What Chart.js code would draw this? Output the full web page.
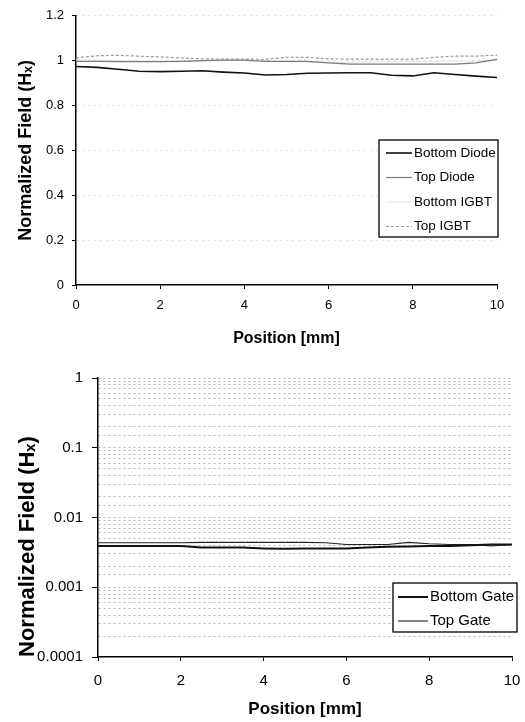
<!DOCTYPE html>
<html>
<head>
<meta charset="utf-8">
<script src="https://cdn.jsdelivr.net/npm/chart.js@4.4.1/dist/chart.umd.min.js"></script>
<style>
  html, body { margin: 0; padding: 0; background: #fff; }
  .wrap { position: absolute; left: 0; width: 525px; }
  #fieldWrap { top: 0; height: 355px; }
  #gateWrap { top: 360px; height: 362px; }
</style>
</head>
<body>
<div class="wrap" id="fieldWrap"><canvas id="fieldChart"></canvas></div>
<div class="wrap" id="gateWrap"><canvas id="gateChart"></canvas></div>
<script>
// Sample positions along the strip [mm]
const positions = [0, 0.5, 1, 1.5, 2, 2.5, 3, 3.5, 4, 4.5, 5, 5.5, 6, 6.5, 7, 7.5, 8, 8.5, 9, 9.5, 10];

// Normalized Hx - diode / IGBT probes (linear plot)
const bottomDiode = [0.974, 0.970, 0.962, 0.953, 0.951, 0.953, 0.955, 0.949, 0.945, 0.936, 0.938, 0.944, 0.945, 0.946, 0.946, 0.935, 0.932, 0.946, 0.938, 0.931, 0.925];
const topDiode    = [0.997, 0.997, 0.996, 0.996, 0.996, 0.997, 1.000, 1.002, 1.002, 0.997, 0.997, 0.997, 0.990, 0.985, 0.985, 0.985, 0.985, 0.985, 0.985, 0.990, 1.006];
const bottomIGBT  = [1.004, 1.003, 1.001, 0.999, 0.998, 0.998, 0.999, 1.000, 1.000, 0.998, 0.995, 0.994, 0.993, 0.993, 0.994, 0.995, 0.996, 0.997, 0.998, 0.999, 1.002];
const topIGBT     = [1.012, 1.022, 1.024, 1.020, 1.017, 1.012, 1.008, 1.007, 1.007, 1.006, 1.015, 1.015, 1.008, 1.007, 1.007, 1.007, 1.007, 1.015, 1.020, 1.020, 1.025];

// Normalized Hx - gate probes (log plot)
const bottomGate = [0.0039, 0.0039, 0.0039, 0.0039, 0.0039, 0.0037, 0.0037, 0.0037, 0.0036, 0.00355, 0.0036, 0.0036, 0.0036, 0.0037, 0.0038, 0.00385, 0.0039, 0.0039, 0.0040, 0.0041, 0.0041];
const topGate    = [0.00435, 0.00435, 0.00435, 0.00435, 0.00435, 0.0044, 0.0044, 0.0044, 0.0044, 0.0044, 0.0044, 0.00435, 0.0041, 0.0041, 0.0041, 0.0044, 0.0042, 0.0041, 0.0041, 0.0039, 0.0041];

// Tick labels
const fieldTickLabels = ['0', '0.2', '0.4', '0.6', '0.8', '1', '1.2'];
const gateTickLabels = ['0.0001', '0.001', '0.01', '0.1', '1'];

const FONT = 'Arial, "Liberation Sans", Helvetica, sans-serif';
Chart.defaults.font.family = FONT;
Chart.defaults.color = '#000';

const toPoints = ys => positions.map((x, i) => ({ x: x, y: ys[i] }));

// Boxed legend drawn inside the plot
const boxLegend = {
    id: 'boxLegend',
    afterDraw(chart, args, opts) {
        const ctx = chart.ctx;
        ctx.save();
        ctx.fillStyle = '#fff';
        ctx.fillRect(opts.left, opts.top, opts.width, opts.height);
        ctx.strokeStyle = '#000';
        ctx.lineWidth = 1.3;
        ctx.strokeRect(opts.left, opts.top, opts.width, opts.height);
        chart.data.datasets.forEach((ds, i) => {
            const y = opts.top + opts.firstRow + i * opts.rowGap;
            const x0 = opts.left + opts.pad;
            ctx.beginPath();
            ctx.setLineDash(ds.borderDash || []);
            ctx.strokeStyle = ds.borderColor;
            ctx.lineWidth = ds.borderWidth;
            ctx.moveTo(x0, y);
            ctx.lineTo(x0 + opts.lineLen, y);
            ctx.stroke();
            ctx.setLineDash([]);
            ctx.fillStyle = '#000';
            ctx.font = opts.font;
            ctx.textBaseline = 'middle';
            ctx.fillText(ds.label, x0 + opts.lineLen + 2, y);
        });
        ctx.restore();
    }
};

function xAxis(tickSize, tickPad, titleSize, titlePad, height) {
    return {
        type: 'linear',
        min: 0,
        max: 10,
        // fixed axis height; the right edge is set by layout padding only
        afterFit: s => { s.height = height; s.paddingRight = 0; s.paddingLeft = 0; },
        ticks: { stepSize: 2, font: { size: tickSize }, padding: tickPad, maxRotation: 0 },
        grid: { drawOnChartArea: false, tickLength: 4, tickColor: '#000' },
        border: { color: '#000', width: 1.5 },
        title: {
            display: true,
            text: 'Position [mm]',
            font: { size: titleSize, weight: 'bold' },
            padding: { top: 0, bottom: titlePad }
        }
    };
}

function yTitle(size, pad, align) {
    return {
        display: true,
        text: 'Normalized Field (Hₓ)',
        align: align,
        font: { size: size, weight: 'bold' },
        padding: { top: pad, bottom: 0 }
    };
}

// 1. Diode / IGBT field (linear)
new Chart(document.getElementById('fieldChart'), {
    type: 'line',
    data: {
        datasets: [
            { label: 'Bottom Diode', data: toPoints(bottomDiode), borderColor: '#111', borderWidth: 1.6 },
            { label: 'Top Diode', data: toPoints(topDiode), borderColor: '#7a7a7a', borderWidth: 1.2 },
            { label: 'Bottom IGBT', data: toPoints(bottomIGBT), borderColor: '#e4e4e4', borderWidth: 1 },
            { label: 'Top IGBT', data: toPoints(topIGBT), borderColor: '#9a9a9a', borderWidth: 1.2, borderDash: [3, 2] }
        ]
    },
    options: {
        responsive: true,
        maintainAspectRatio: false,
        animation: false,
        elements: { point: { radius: 0 }, line: { tension: 0 } },
        layout: { padding: { left: 0, right: 28, top: 15, bottom: 0 } },
        plugins: {
            legend: { display: false },
            tooltip: { enabled: false },
            boxLegend: {
                left: 379, top: 140, width: 119, height: 97,
                firstRow: 13, rowGap: 24.5, pad: 7, lineLen: 26,
                font: '13.5px ' + FONT
            }
        },
        scales: {
            x: xAxis(13, 9, 16, 7, 70),
            y: {
                min: 0,
                max: 1.2,
                afterFit: s => { s.width = 76; },
                ticks: {
                    stepSize: 0.2,
                    font: { size: 13 },
                    padding: 8,
                    callback: (v) => fieldTickLabels[Math.round(v / 0.2)]
                },
                grid: {
                    color: ctx => (ctx.tick && ctx.tick.value === 0) ? 'rgba(0,0,0,0)' : '#c6c6c6',
                    tickColor: '#000',
                    tickLength: 4
                },
                border: { color: '#000', width: 1.5, dash: [1, 5] },
                title: yTitle(18, 15, 'center')
            }
        }
    },
    plugins: [boxLegend]
});

// 2. Gate field (log)
const isDecade = v => Math.abs(Math.log10(v) - Math.round(Math.log10(v))) < 1e-6;

new Chart(document.getElementById('gateChart'), {
    type: 'line',
    data: {
        datasets: [
            { label: 'Bottom Gate', data: toPoints(bottomGate), borderColor: '#111', borderWidth: 2 },
            { label: 'Top Gate', data: toPoints(topGate), borderColor: '#222', borderWidth: 1.1 }
        ]
    },
    options: {
        responsive: true,
        maintainAspectRatio: false,
        animation: false,
        elements: { point: { radius: 0 }, line: { tension: 0 } },
        layout: { padding: { left: 0, right: 13, top: 14, bottom: 0 } },
        plugins: {
            legend: { display: false },
            tooltip: { enabled: false },
            boxLegend: {
                left: 393, top: 223, width: 124, height: 49,
                firstRow: 14, rowGap: 24, pad: 5, lineLen: 30,
                font: '15px ' + FONT
            }
        },
        scales: {
            x: xAxis(15, 11, 17, 2, 65),
            y: {
                type: 'logarithmic',
                min: 0.0001,
                max: 1,
                afterFit: s => { s.width = 98; },
                ticks: {
                    autoSkip: false,
                    font: { size: 15 },
                    padding: 9,
                    callback: (v) => isDecade(v) ? gateTickLabels[Math.round(Math.log10(v)) + 4] : ''
                },
                grid: {
                    color: ctx => (ctx.tick && ctx.tick.value <= 0.0001) ? 'rgba(0,0,0,0)' : '#b5b5b5',
                    tickColor: ctx => (ctx.tick && isDecade(ctx.tick.value)) ? '#000' : 'rgba(0,0,0,0)',
                    tickLength: 6
                },
                border: { color: '#000', width: 1.5, dash: [2, 3] },
                title: yTitle(22, 15, 'start')
            }
        }
    },
    plugins: [boxLegend]
});
</script>
</body>
</html>
